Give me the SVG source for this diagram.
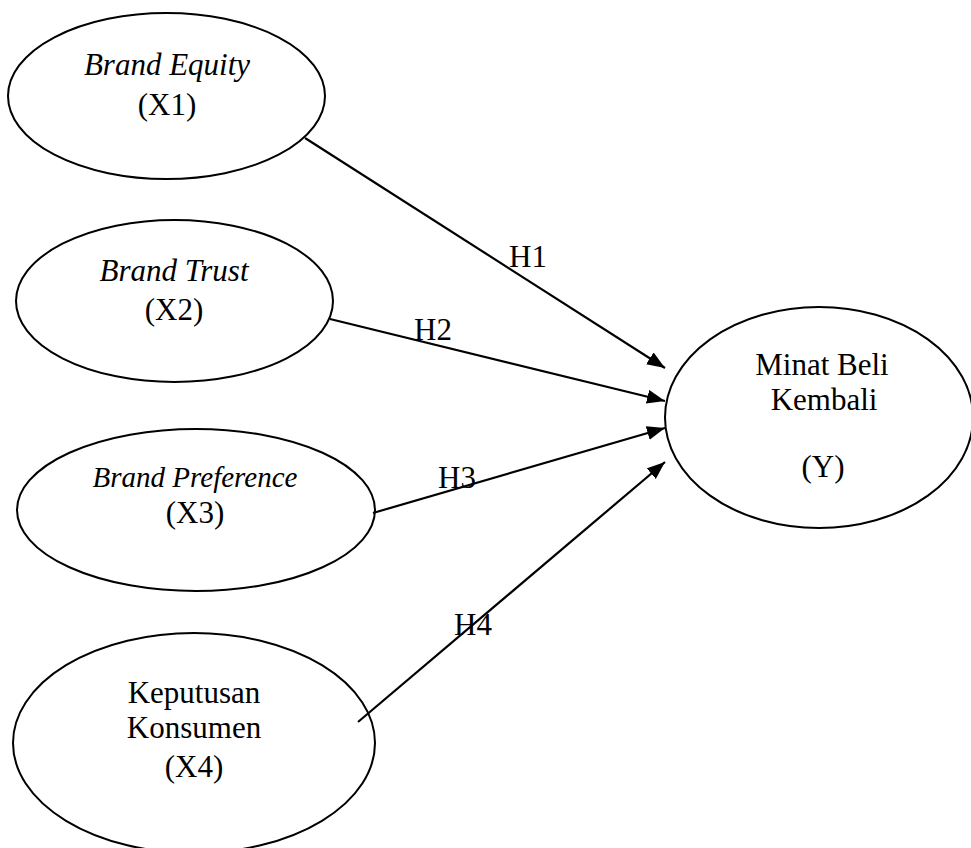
<svg xmlns="http://www.w3.org/2000/svg" width="971" height="848" viewBox="0 0 971 848">
<style>
.node{fill:#fff;stroke:#000;stroke-width:2}
.t{font-family:"Liberation Serif","Times New Roman",serif;font-size:31px;fill:#000;text-anchor:middle}
.i{font-style:italic}
.edge{stroke:#000;stroke-width:2.2;fill:none;marker-end:url(#arr)}
</style>
<defs>
<marker id="arr" markerUnits="userSpaceOnUse" markerWidth="20" markerHeight="16" refX="18" refY="7" orient="auto">
<path d="M0,0 L18,7 L0,14 z" fill="#000"/>
</marker>
</defs>
<rect width="971" height="848" fill="#fff"/>
<g id="x1">
<ellipse class="node" cx="166.5" cy="96" rx="158.5" ry="83"/>
<text class="t i" x="167" y="75">Brand Equity</text>
<text class="t" x="167" y="115">(X1)</text>
</g>
<g id="x2">
<ellipse class="node" cx="174.5" cy="301" rx="158.5" ry="81"/>
<text class="t i" x="174" y="281">Brand Trust</text>
<text class="t" x="174" y="320">(X2)</text>
</g>
<g id="x3">
<ellipse class="node" cx="196" cy="510" rx="179" ry="81"/>
<text class="t i" x="195" y="487" style="font-size:29px">Brand Preference</text>
<text class="t" x="195" y="523">(X3)</text>
</g>
<g id="x4">
<ellipse class="node" cx="194" cy="743" rx="181" ry="110"/>
<text class="t" x="194" y="703">Keputusan</text>
<text class="t" x="194" y="738">Konsumen</text>
<text class="t" x="194" y="777">(X4)</text>
</g>
<g id="y">
<ellipse class="node" cx="819" cy="417.5" rx="154" ry="110.5"/>
<text class="t" x="822" y="375">Minat Beli</text>
<text class="t" x="824" y="410">Kembali</text>
<text class="t" x="823" y="477">(Y)</text>
</g>
<g id="connectors">
<line class="edge" x1="305" y1="138" x2="665" y2="368"/>
<line class="edge" x1="330" y1="319" x2="665" y2="401"/>
<line class="edge" x1="373" y1="513" x2="665" y2="428"/>
<line class="edge" x1="358" y1="722" x2="665" y2="462"/>
<text class="t" x="528" y="267">H1</text>
<text class="t" x="433" y="340">H2</text>
<text class="t" x="457" y="488">H3</text>
<text class="t" x="473" y="635">H4</text>
</g>
</svg>
